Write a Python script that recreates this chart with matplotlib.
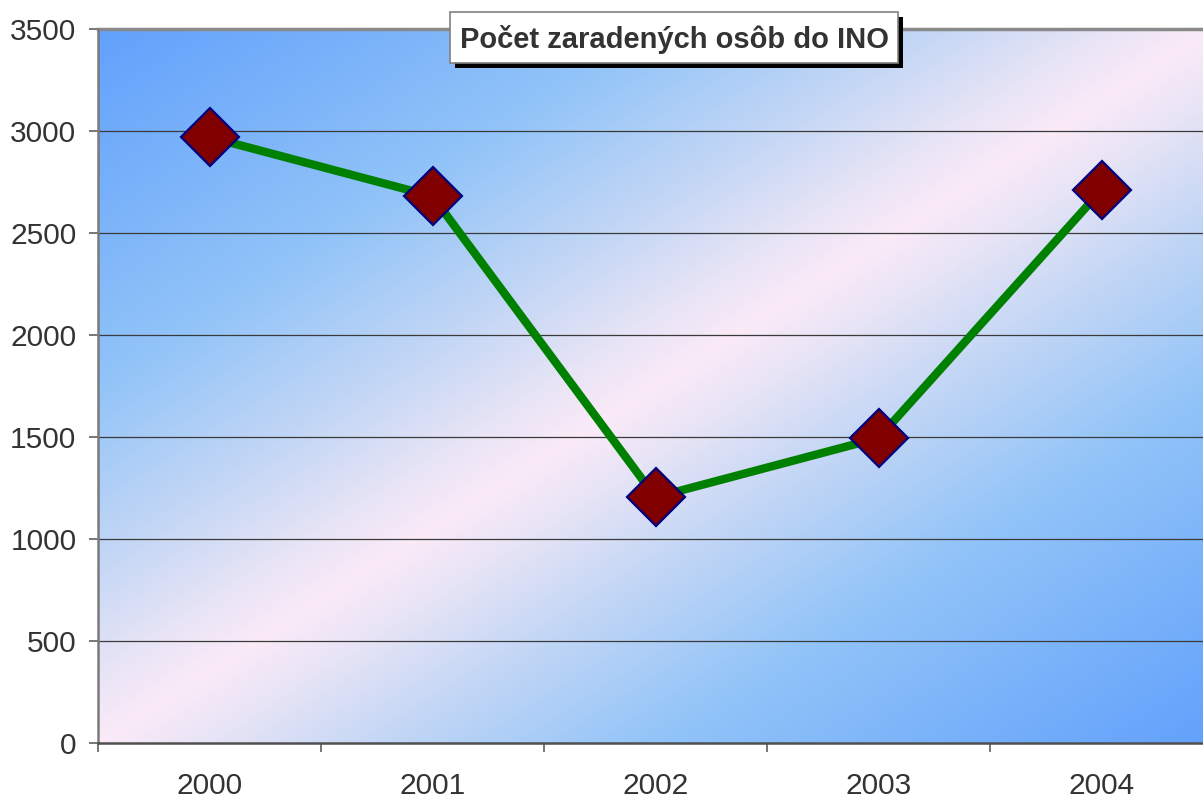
import matplotlib
matplotlib.use("Agg")
import matplotlib.pyplot as plt
import numpy as np
from matplotlib.colors import LinearSegmentedColormap
from matplotlib.patches import Rectangle

years = ["2000", "2001", "2002", "2003", "2004"]
counts = [2970, 2680, 1205, 1495, 2710]
y_ticks = [0, 500, 1000, 1500, 2000, 2500, 3000, 3500]
title = "Počet zaradených osôb do INO"

plt.rcParams["font.family"] = ["Liberation Sans", "DejaVu Sans"]

W, H, DPI = 1203, 799, 100
fig = plt.figure(figsize=(W / DPI, H / DPI), dpi=DPI)
# plot area runs past the right edge of the picture, like the original
left, right, top, bottom = 98, 1213, 29, 743
ax = fig.add_axes([left / W, 1 - bottom / H, (right - left) / W, (bottom - top) / H])

# diagonal blue -> pink -> blue background
bg = LinearSegmentedColormap.from_list(
    "bg",
    [(0.0, "#62a1fc"), (0.25, "#92c4f8"), (0.37, "#c2d6f5"), (0.45, "#e6e4f6"),
     (0.5, "#fbeaf8"), (0.55, "#e6e4f6"), (0.63, "#c2d6f5"), (0.75, "#92c4f8"),
     (1.0, "#62a1fc")],
)
u = np.linspace(0, 1, 600)
v = np.linspace(1, 0, 400)
U, V = np.meshgrid(u, v)
T = (U + (1 - V)) / 2
ax.imshow(T, cmap=bg, vmin=0, vmax=1, extent=[0, 1, 0, 1], transform=ax.transAxes,
          aspect="auto", zorder=0, interpolation="bilinear")

x = np.arange(len(years))
ax.plot(x, counts, color="#008000", lw=6, zorder=3, solid_capstyle="butt")
ax.plot(x, counts, ls="none", marker="D", ms=30, mfc="#800000", mec="#000080",
        mew=1.6, zorder=4)

ax.set_xlim(-0.5, len(years) - 0.5)
ax.set_ylim(0, 3500)
ax.set_yticks(y_ticks)
ax.set_xticks(x)
ax.set_xticklabels(years)
ax.set_xticks(np.arange(-0.5, len(years)), minor=True)
ax.tick_params(axis="x", which="major", length=0, pad=21, labelsize=21.5, labelcolor="#333333")
ax.tick_params(axis="x", which="minor", length=6.5, width=1.2, color="#606060")
ax.tick_params(axis="y", length=6.5, width=1.2, color="#606060", pad=9,
               labelsize=21.5, labelcolor="#333333")

for yv in y_ticks[1:-1]:
    ax.axhline(yv, color="#3a3a3a", lw=0.9, zorder=1)
ax.axhline(3500, color="#8a8a8a", lw=2.5, zorder=2, clip_on=False)

for s in ["top", "right"]:
    ax.spines[s].set_visible(False)
ax.spines["left"].set_color("#7a7a7a")
ax.spines["left"].set_linewidth(1.8)
ax.spines["bottom"].set_color("#505050")
ax.spines["bottom"].set_linewidth(1.8)

# boxed title with a hard black shadow
bx0, bx1, by0, by1 = 450, 898, 12, 63
fig.patches.append(Rectangle(((bx0 + 5) / W, 1 - (by1 + 5) / H), (bx1 - bx0) / W,
                             (by1 - by0) / H, transform=fig.transFigure,
                             fc="black", ec="none", zorder=5))
fig.patches.append(Rectangle((bx0 / W, 1 - by1 / H), (bx1 - bx0) / W, (by1 - by0) / H,
                             transform=fig.transFigure, fc="white", ec="#808080",
                             lw=1.2, zorder=6))
fig.text((bx0 + bx1) / 2 / W, 1 - 39 / H, title, fontsize=21, fontweight="bold",
         color="#333333", ha="center", va="center", zorder=7)

fig.savefig("out.png", dpi=DPI)
